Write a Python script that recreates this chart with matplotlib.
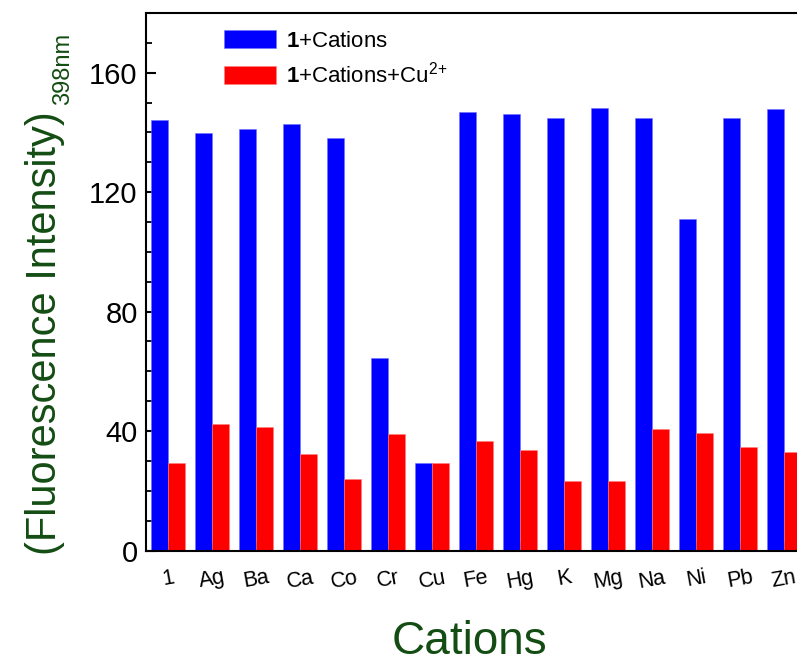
import numpy as np
import matplotlib
matplotlib.use("Agg")
import matplotlib.pyplot as plt
from matplotlib.ticker import MultipleLocator

plt.rcParams['font.family'] = ['Liberation Sans', 'DejaVu Sans']
plt.rcParams['mathtext.fontset'] = 'custom'
plt.rcParams['mathtext.rm'] = 'Liberation Sans'
plt.rcParams['mathtext.bf'] = 'Liberation Sans:bold'

cations = ['1', 'Ag', 'Ba', 'Ca', 'Co', 'Cr', 'Cu', 'Fe', 'Hg', 'K', 'Mg', 'Na', 'Ni', 'Pb', 'Zn']
with_cations = [144.3, 139.8, 141.2, 142.8, 138.3, 64.6, 29.2, 147.0, 146.2, 144.8,
                148.3, 144.8, 111.1, 144.8, 147.9]
with_cations_cu = [29.2, 42.3, 41.4, 32.2, 24.1, 39.0, 29.2, 36.6, 33.7, 23.3,
                   23.3, 40.7, 39.3, 34.6, 33.1]

W, H = 797, 668
fig = plt.figure(figsize=(W / 100, H / 100), dpi=100)
ax = fig.add_axes([146 / W, 117.5 / H, 660 / W, 537.5 / H])

x = np.arange(len(cations))
bw = 0.37
ax.bar(x - 0.195, with_cations, width=bw, color='#0000ff', edgecolor='#6f6fff',
       linewidth=0.4, label=r'$\mathbf{1}$+Cations', zorder=2)
ax.bar(x + 0.195, with_cations_cu, width=bw, color='#ff0000', edgecolor='#ff8080',
       linewidth=0.4, label=r'$\mathbf{1}$+Cations+Cu$^{\mathrm{2{+}}}$', zorder=2)

ax.set_xlim(-0.5, len(cations) - 0.5)
ax.set_ylim(0, 180)
ax.yaxis.set_major_locator(MultipleLocator(40))
ax.yaxis.set_minor_locator(MultipleLocator(10))
ax.set_xticks(x)
ax.set_xticklabels(cations, rotation=10, fontsize=15.5)
ax.xaxis.set_zorder(0.5)

for s in ax.spines.values():
    s.set_linewidth(1.5)
ax.tick_params(axis='y', which='major', direction='in', length=7, width=1.5,
               labelsize=21, pad=6, right=False)
ax.tick_params(axis='y', which='minor', direction='in', length=4.5, width=1.3, right=False)
ax.tick_params(axis='x', which='major', direction='in', length=6, width=1.5, pad=12)

leg = ax.legend(loc='upper left', bbox_to_anchor=(0.105, 0.985), frameon=False,
                fontsize=16, handlelength=2.35, handleheight=0.85, labelspacing=0.45,
                handletextpad=0.45, borderaxespad=0)

green = '#144d14'
fig.text(45 / W, 113 / H, '(Fluorescence Intensity)', rotation=90, color=green,
         fontsize=30, ha='center', va='bottom')
fig.text(63 / W, 563 / H, '398nm', rotation=90, color=green,
         fontsize=17, ha='center', va='bottom')
fig.text(469 / W, 4 / H, 'Cations', color=green, fontsize=33, ha='center', va='bottom')

fig.savefig('out.png', dpi=100)
